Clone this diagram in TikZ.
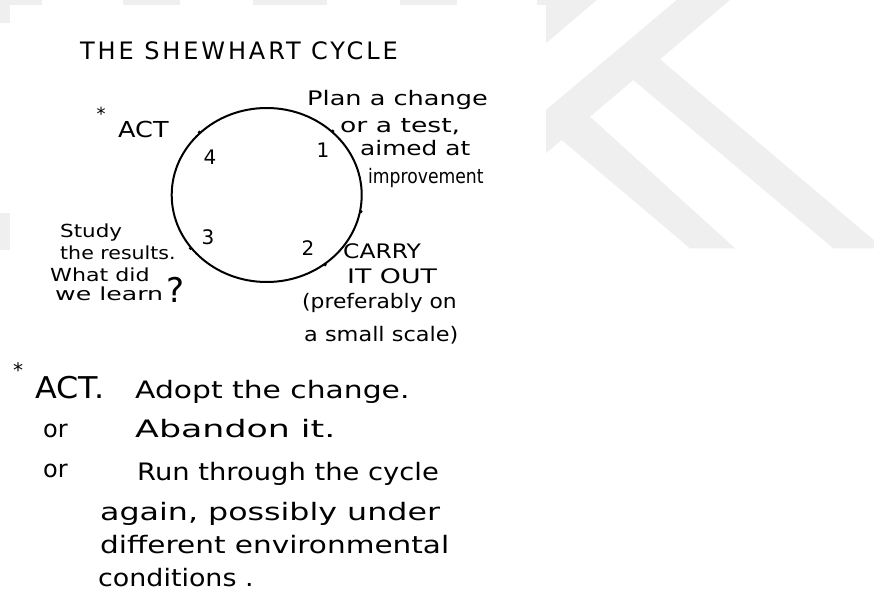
\documentclass[tikz,border=0pt]{standalone}
\usepackage{fontspec}
\setmainfont{DejaVu Sans}
\usetikzlibrary{shapes.geometric, positioning}
\definecolor{markGrey}{RGB}{239, 239, 239}

\begin{document}
\begin{tikzpicture}[x=1pt, y=-1pt,
    hand/.style  = {anchor=base west, inner sep=0pt,
        font=\fontsize{20}{22}\selectfont\addfontfeature{FakeStretch=#1}},
    hand/.default = 1,
    note/.style  = {anchor=base west, inner sep=0pt,
        font=\fontsize{24}{26}\selectfont\addfontfeature{FakeStretch=#1}},
    note/.default = 1,
    side/.style  = {anchor=base west, inner sep=0pt,
        font=\fontsize{18}{20}\selectfont\addfontfeature{FakeStretch=#1}},
    side/.default = 1,
    num/.style   = {inner sep=0pt, font=\fontsize{20}{22}\selectfont},
    tick/.style  = {fill, circle, inner sep=0pt, minimum size=3.5pt}
    ]
    \useasboundingbox (0,0) rectangle (874,596);
    \fill[white] (0,0) rectangle (874,596);

    % watermark stripes behind the sheet
    \fill[markGrey] (546,0) -- (596.7,0) -- (546,43.3) -- cycle;
    \fill[markGrey] (676.7,0) -- (730,0) -- (660,59.3) -- (874,240.3) -- (874,248.3)
        -- (833.3,248.3) -- (633.3,80) -- (590,116.7) -- (735,248.3) -- (690,248.3)
        -- (561.7,140) -- (546,153.3) -- (546,110) -- cycle;
    \foreach \a/\b in {0/42, 123/180, 253/327, 400/457, 537/546}
        \fill[markGrey] (\a,0) rectangle (\b,5);
    \fill[markGrey] (0,0) rectangle (10,23);
    \fill[markGrey] (0,213) rectangle (10,250);

    % the sheet
    \fill[white] (10,4.7) rectangle (546,596);

    \node[anchor=base west, inner sep=0pt,
        font=\fontsize{24}{26}\selectfont\addfontfeature{LetterSpace=12}]
        (title) at (80,60) {THE SHEWHART CYCLE};

    % the cycle
    \node[draw, ellipse, line width=2pt, minimum width=190, minimum height=174,
        inner sep=0pt] (cycle) at (266.7,195) {};
    \foreach \ang in {44,-50,215,137,-10}
        \node[tick] (t\ang) at (cycle.\ang) {};

    \node[num] (n1) at (323,150) {1};
    \node[num] (n2) at (308,248) {2};
    \node[num] (n3) at (208,237) {3};
    \node[num] (n4) at (210,157) {4};

    % step 4
    \node[anchor=center, inner sep=0pt, font=\fontsize{18}{20}\selectfont] (star) at (101,114) {*};
    \node[anchor=base west, inner sep=0pt,
        font=\fontsize{22}{24}\selectfont\addfontfeature{FakeStretch=1.16}] (act) at (118,138) {ACT};

    % step 1
    \node[hand=1.28] (plan1) at (307,106) {Plan a change};
    \node[hand=1.33] (plan2) at (340,133) {or a test,};
    \node[hand=1.24] (plan3) at (360,156) {aimed at};
    \node[hand=0.86] (plan4) at (368,183) {improvement};

    % step 2
    \node[hand=1.17] (do1) at (343,258) {CARRY};
    \node[hand=1.34] (do2) at (347,283) {IT OUT};
    \node[hand=1.09] (do3) at (302,308) {(preferably on};
    \node[hand=1.12] (do4) at (304,341) {a small scale)};

    % step 3
    \node[side=1.19] (study1) at (60,237) {Study};
    \node[side=1.14] (study2) at (60,259) {the results.};
    \node[side=1.23] (study3) at (50,281) {What did};
    \node[side=1.4] (study4) at (55,300) {we learn};
    \node[anchor=base west, inner sep=0pt, font=\fontsize{34}{36}\selectfont]
        (query) at (166,302) {?};

    % footnote on acting
    \node[anchor=center, inner sep=0pt, font=\fontsize{20}{22}\selectfont] (star2) at (18,370) {*};
    \node[anchor=base west, inner sep=0pt,
        font=\fontsize{30}{32}\selectfont\addfontfeature{FakeStretch=1.06}] (act2) at (35,398) {ACT.};
    \node[note=1.24] (opt1) at (135,398) {Adopt the change.};
    \node[note] (or1) at (43,437) {or};
    \node[note=1.45] (opt2) at (135,437) {Abandon it.};
    \node[note] (or2) at (43,477) {or};
    \node[note=1.14] (opt3) at (137,480) {Run through the cycle};
    \node[note=1.32] (opt3b) at (100,520) {again, possibly under};
    \node[note=1.23] (opt3c) at (100,553) {different environmental};
    \node[note=1.12] (opt3d) at (98,586) {conditions .};
\end{tikzpicture}
\end{document}
